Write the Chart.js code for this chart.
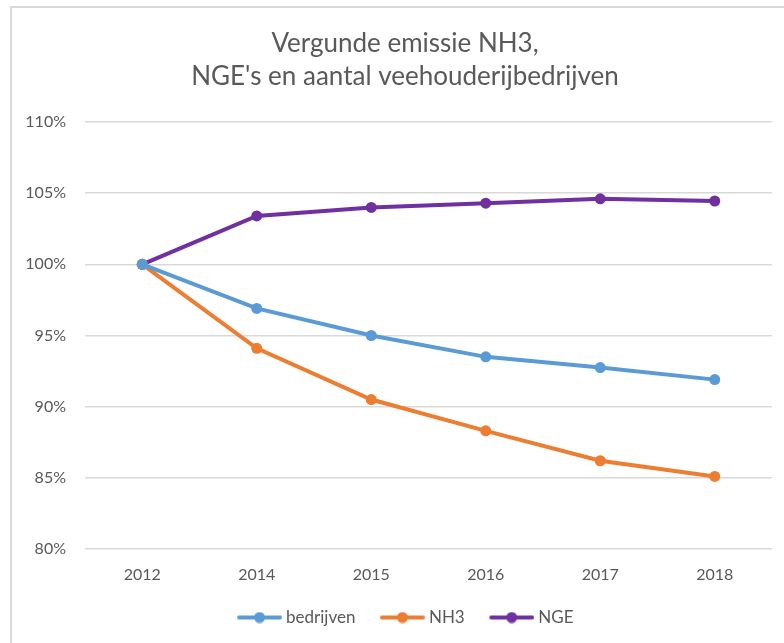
<!DOCTYPE html>
<html>
<head>
<meta charset="utf-8">
<script src="https://cdn.jsdelivr.net/npm/chart.js@4.4.0/dist/chart.umd.min.js"></script>
<style>
    html, body { margin: 0; padding: 0; background: #fff; overflow: hidden; }
    #frame {
        position: absolute; left: 10px; top: 6px; width: 800px; height: 660px;
        border-left: 2px solid #d9d9d9; border-top: 2px solid #d9d9d9;
    }
    #grafiek { position: absolute; left: 0; top: 0; }
</style>
</head>
<body>
<div id="frame">
    <canvas id="grafiek" width="786" height="635"></canvas>
</div>
<script>
// Jaren en indexcijfers (2012 = 100%)
const jaren = ['2012', '2014', '2015', '2016', '2017', '2018'];
const bedrijven = [100, 96.9, 95.0, 93.5, 92.75, 91.9];
const nh3 = [100, 94.1, 90.5, 88.3, 86.2, 85.1];
const nge = [100, 103.4, 104.0, 104.3, 104.6, 104.45];
const yTicks = [80, 85, 90, 95, 100, 105, 110];

const kleuren = { bedrijven: '#5B9BD5', nh3: '#ED7D31', nge: '#7030A0' };
const tekstKleur = '#595959';
const lettertype = 'Lato';

// Legenda-symbool: lijn met bolletje (zoals in Excel), rechts uitgelijnd in het plaatje
function maakSymbool(kleur) {
    const c = document.createElement('canvas');
    c.width = 50;
    c.height = 12;
    const ctx = c.getContext('2d');
    const x0 = c.width - 45;
    ctx.strokeStyle = kleur;
    ctx.lineWidth = 4;
    ctx.lineCap = 'round';
    ctx.beginPath();
    ctx.moveTo(x0 + 2, 6);
    ctx.lineTo(x0 + 43, 6);
    ctx.stroke();
    ctx.fillStyle = kleur;
    ctx.beginPath();
    ctx.arc(x0 + 22.5, 6, 5.5, 0, Math.PI * 2);
    ctx.fill();
    return c;
}

function reeks(label, data, kleur) {
    return {
        label: label,
        data: data,
        borderColor: kleur,
        backgroundColor: kleur,
        borderWidth: 4,
        pointRadius: 5.5,
        pointBorderWidth: 0,
        pointBackgroundColor: kleur,
        pointStyle: 'circle',
        tension: 0,
        fill: false
    };
}

const ctx = document.getElementById('grafiek').getContext('2d');
new Chart(ctx, {
    type: 'line',
    data: {
        labels: jaren,
        datasets: [
            reeks('bedrijven', bedrijven, kleuren.bedrijven),
            reeks('NH3', nh3, kleuren.nh3),
            reeks('NGE', nge, kleuren.nge)
        ]
    },
    options: {
        responsive: false,
        animation: false,
        devicePixelRatio: 1,
        layout: { padding: { left: 0, right: 0, top: 0, bottom: 7 } },
        plugins: {
            title: {
                display: true,
                text: ['Vergunde emissie NH3,', "NGE's en aantal veehouderijbedrijven"],
                color: tekstKleur,
                font: { family: lettertype, size: 26, weight: 'normal', lineHeight: 33 / 26 },
                padding: { top: 19.5, bottom: 28.5 }
            },
            legend: {
                position: 'bottom',
                labels: {
                    color: tekstKleur,
                    font: { family: lettertype, size: 17 },
                    usePointStyle: true,
                    pointStyleWidth: 41,
                    padding: 24,
                    generateLabels: function (chart) {
                        return chart.data.datasets.map((ds, i) => ({
                            text: ds.label,
                            pointStyle: maakSymbool(ds.borderColor),
                            fillStyle: ds.borderColor,
                            strokeStyle: ds.borderColor,
                            lineWidth: 0,
                            fontColor: tekstKleur,
                            datasetIndex: i
                        }));
                    }
                }
            },
            tooltip: { enabled: false }
        },
        scales: {
            x: {
                offset: true,
                grid: { display: false, drawTicks: false },
                border: { display: false },
                ticks: {
                    color: tekstKleur,
                    font: { family: lettertype, size: 16 },
                    padding: 16,
                    maxRotation: 0
                },
                afterFit: function (s) { s.height = 36; }
            },
            y: {
                min: 80,
                max: 110,
                afterBuildTicks: function (s) { s.ticks = yTicks.map(v => ({ value: v })); },
                grid: { color: '#d9d9d9', lineWidth: 1.5, drawTicks: false },
                border: { display: false },
                ticks: {
                    color: tekstKleur,
                    font: { family: lettertype, size: 16 },
                    padding: 19,
                    callback: function (v) { return v + '%'; }
                },
                afterFit: function (s) { s.width = 73; }
            },
            rechts: {
                type: 'linear',
                position: 'right',
                display: true,
                grid: { display: false, drawTicks: false },
                border: { display: false },
                ticks: { display: false },
                afterFit: function (s) { s.width = 26; }
            }
        }
    }
});
</script>
</body>
</html>
